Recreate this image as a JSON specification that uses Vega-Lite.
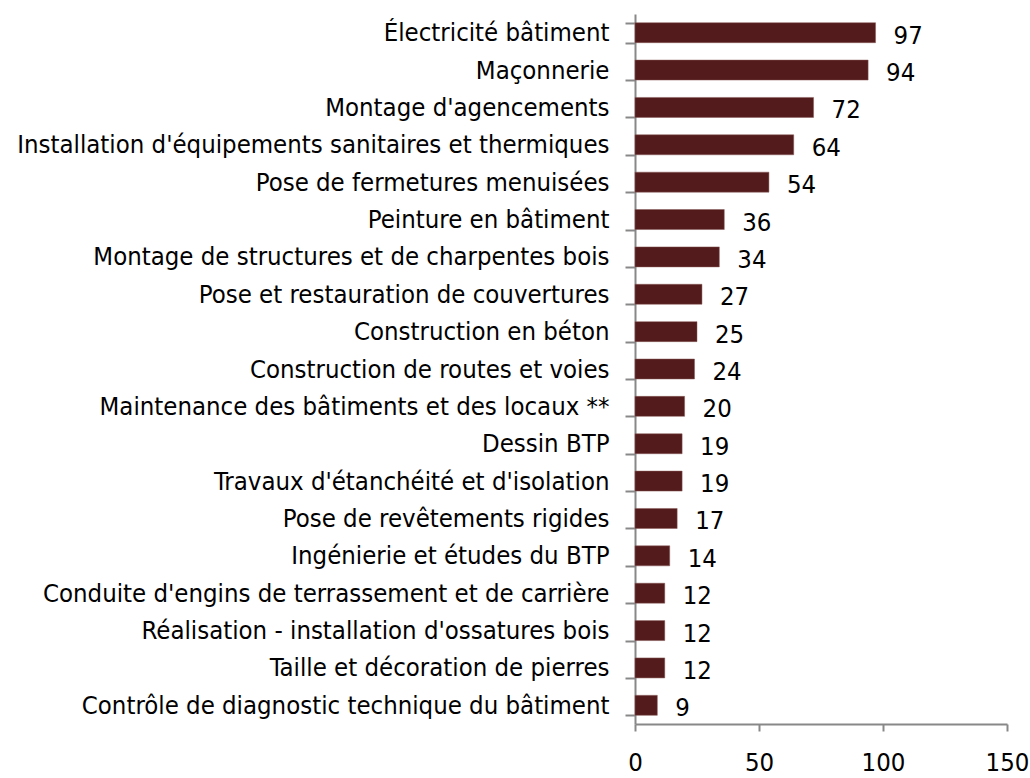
{
  "$schema": "https://vega.github.io/schema/vega-lite/v6.json",
  "autosize": {"type": "none"},
  "padding": {"left": 635, "top": 14, "right": 23, "bottom": 54},
  "width": 372,
  "height": 710,
  "background": "white",
  "config": {"view": {"stroke": null}, "font": "DejaVu Sans Condensed"},
  "data": {"values": [
    {"metier": "Électricité bâtiment", "n": 97},
    {"metier": "Maçonnerie", "n": 94},
    {"metier": "Montage d'agencements", "n": 72},
    {"metier": "Installation d'équipements sanitaires et thermiques", "n": 64},
    {"metier": "Pose de fermetures menuisées", "n": 54},
    {"metier": "Peinture en bâtiment", "n": 36},
    {"metier": "Montage de structures et de charpentes bois", "n": 34},
    {"metier": "Pose et restauration de couvertures", "n": 27},
    {"metier": "Construction en béton", "n": 25},
    {"metier": "Construction de routes et voies", "n": 24},
    {"metier": "Maintenance des bâtiments et des locaux **", "n": 20},
    {"metier": "Dessin BTP", "n": 19},
    {"metier": "Travaux d'étanchéité et d'isolation", "n": 19},
    {"metier": "Pose de revêtements rigides", "n": 17},
    {"metier": "Ingénierie et études du BTP", "n": 14},
    {"metier": "Conduite d'engins de terrassement et de carrière", "n": 12},
    {"metier": "Réalisation - installation d'ossatures bois", "n": 12},
    {"metier": "Taille et décoration de pierres", "n": 12},
    {"metier": "Contrôle de diagnostic technique du bâtiment", "n": 9}
  ]},
  "encoding": {
    "y": {
      "field": "metier", "type": "nominal", "sort": null,
      "scale": {"paddingInner": 0.465, "paddingOuter": 0.2325},
      "axis": {
        "title": null, "tickBand": "extent", "tickSize": 10, "tickColor": "#888888", "tickWidth": 2,
        "domainColor": "#888888", "domainWidth": 2, "labelPadding": 16,
        "labelFontSize": 25.5, "labelColor": "#000000", "labelFont": "DejaVu Sans Condensed", "labelLimit": 700
      }
    },
    "x": {
      "field": "n", "type": "quantitative",
      "scale": {"domain": [0, 150], "nice": false},
      "axis": {
        "title": null, "values": [0, 50, 100, 150], "grid": false, "tickSize": 7, "tickColor": "#888888", "tickWidth": 2,
        "domainColor": "#888888", "domainWidth": 2, "labelPadding": 19, "labelFontSize": 25.5, "labelColor": "#000000",
        "labelFont": "DejaVu Sans Condensed", "labelFlush": false
      }
    }
  },
  "layer": [
    {"mark": {"type": "bar", "color": "#531B1B", "stroke": "#8a5a5a", "strokeWidth": 0.5}},
    {"mark": {"type": "text", "align": "left", "baseline": "middle", "dx": 18, "dy": 3, "fontSize": 25.5, "color": "#000000"},
     "encoding": {"text": {"field": "n", "type": "quantitative"}}}
  ]
}
